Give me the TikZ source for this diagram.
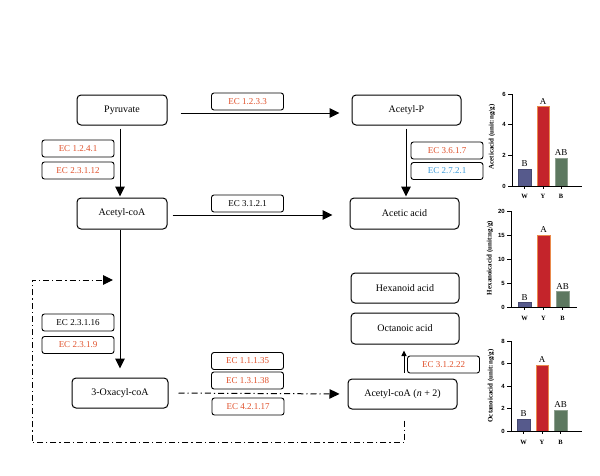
\documentclass[tikz,border=0pt]{standalone}
\usepackage{fontspec}
\setmainfont{Liberation Serif}
\setsansfont{Liberation Sans}
\usetikzlibrary{arrows.meta}
\definecolor{ecred}{HTML}{E0502A}
\definecolor{ecblue}{HTML}{3A9AD9}
\definecolor{barw}{HTML}{565A8C}
\definecolor{bary}{HTML}{C4242B}
\definecolor{baryedge}{HTML}{EA8A4C}
\definecolor{barb}{HTML}{5D7860}
\tikzset{
  mainbox/.style={draw, line width=1pt, rounded corners=4pt, inner sep=0pt, font=\fontsize{10}{11}\selectfont},
  ecbox/.style={draw, line width=0.9pt, rounded corners=2.5pt, inner sep=0pt, minimum width=72pt, minimum height=17pt, font=\fontsize{9}{10}\selectfont},
  arr/.style={line width=1pt, -{Triangle[length=10pt,width=9.5pt]}},
  smallarr/.style={line width=1pt, -{Triangle[length=5.5pt,width=5pt]}},
  dd/.style={line width=1pt, dash pattern=on 6pt off 3pt on 1.2pt off 3pt},
  axisline/.style={line width=0.9pt},
  ticklab/.style={font=\sffamily\bfseries\fontsize{6}{7}\selectfont, anchor=east, inner sep=1pt},
  xlab/.style={font=\bfseries\fontsize{6.5}{7}\selectfont, inner sep=0pt},
  sig/.style={font=\fontsize{9}{10}\selectfont, inner sep=0pt, anchor=south},
  ylab/.style={font=\bfseries\fontsize{7}{8}\selectfont, rotate=90, inner sep=0pt},
}
\begin{document}
\begin{tikzpicture}[x=1pt,y=-1pt]
\useasboundingbox (0,0) rectangle (600,475);
\fill[white] (0,0) rectangle (600,475);
% main boxes
\node[mainbox, minimum width=90pt, minimum height=30pt] (pyr) at (122,110) {Pyruvate};
\node[mainbox, minimum width=109pt, minimum height=30pt] (acp) at (406.5,110) {Acetyl-P};
\node[mainbox, minimum width=90pt, minimum height=31pt] (acoa) at (122,213.5) {Acetyl-coA};
\node[mainbox, minimum width=109pt, minimum height=31pt] (aca) at (404.5,213.5) {Acetic acid};
\node[mainbox, minimum width=96pt, minimum height=30pt] (oxa) at (120,393) {3-Oxacyl-coA};
\node[mainbox, minimum width=109pt, minimum height=30pt] (acn) at (402.5,394) {Acetyl-coA (\textit{n} + 2)};
\node[mainbox, minimum width=108pt, minimum height=30pt] (hex) at (405,288) {Hexanoid acid};
\node[mainbox, minimum width=108pt, minimum height=31pt] (oct) at (405,328.5) {Octanoic acid};
% EC boxes
\node[ecbox, text=ecred] (e1233) at (247.5,101.5) {EC 1.2.3.3};
\node[ecbox, text=ecred] (e1241) at (78,148.5) {EC 1.2.4.1};
\node[ecbox, text=ecred] (e23112) at (78,170.5) {EC 2.3.1.12};
\node[ecbox] (e3121) at (247.5,203.5) {EC 3.1.2.1};
\node[ecbox, text=ecred] (e3617) at (447,150.5) {EC 3.6.1.7};
\node[ecbox, text=ecblue] (e2721) at (447,171) {EC 2.7.2.1};
\node[ecbox] (e23116) at (78,322.5) {EC 2.3.1.16};
\node[ecbox, text=ecred] (e2319) at (78,345) {EC 2.3.1.9};
\node[ecbox, text=ecred] (e11135) at (247.5,361) {EC 1.1.1.35};
\node[ecbox, text=ecred] (e13138) at (247.5,380.5) {EC 1.3.1.38};
\node[ecbox, text=ecred] (e42117) at (248,406.5) {EC 4.2.1.17};
\node[ecbox, text=ecred] (e31222) at (443.5,364.5) {EC 3.1.2.22};
% connectors
\draw[arr, shorten <=13pt, shorten >=12pt] ([yshift=-3pt]pyr.east) -- ([yshift=-3pt]acp.west);
\draw[arr, shorten <=3pt, shorten >=1pt] ([xshift=-2pt]pyr.south) -- ([xshift=-2pt]acoa.north);
\draw[arr, shorten <=3pt, shorten >=1pt] ([xshift=-0.5pt]acp.south) -- ([xshift=1.5pt]aca.north);
\draw[arr, shorten <=5pt, shorten >=17pt] ([yshift=-1.5pt]acoa.east) -- ([yshift=-1.5pt]aca.west);
\draw[arr, shorten >=9pt] ([xshift=-2pt]acoa.south) -- (oxa.north);
\draw[dd, arr, shorten <=10pt, shorten >=8pt] (oxa.east) -- (acn.west);
\draw[smallarr, shorten <=6pt, shorten >=6pt] ([xshift=1.5pt]acn.north) -- ([xshift=-1pt]oct.south);
\coordinate (loopend) at (113,280);
\draw[dd, arr] ([xshift=1.5pt,yshift=-11pt]acn.south) -- ++(0,22) -| (32,280) -- (loopend);
% ---------- chart 1: acetic acid ----------
\begin{scope}[shift={(512,186)}]
  \draw[fill=barw, draw=barw!80!black, line width=0.4pt] (6,0) rectangle (19,-1.1*15.33);
  \draw[fill=bary, draw=baryedge, line width=0.6pt] (25,0) rectangle (37,-5.2*15.33);
  \draw[fill=barb, draw=barb!70!white, line width=0.6pt] (43,0) rectangle (55,-1.83*15.33);
  \draw[axisline] (0,0) -- (0,-6*15.33);
  \draw[axisline] (0,0) -- (70,0);
  \foreach \v in {0,2,4,6} {
    \draw[axisline] (0,-\v*15.33) -- (-4,-\v*15.33);
    \node[ticklab] at (-5,-\v*15.33) {\v};
  }
  \foreach \xx/\t in {12.5/W,31/Y,49/B} {
    \draw[axisline] (\xx,0) -- (\xx,3);
    \node[xlab] at (\xx,10) {\t};
  }
  \node[sig] at (12.5,-1.1*15.33-2) {B};
  \node[sig] at (31,-5.2*15.33-2) {A};
  \node[sig] at (49,-1.83*15.33-2) {AB};
  \node[ylab] at (-20,-49) {Aceticacid (unit:ng/g)};
\end{scope}
% ---------- chart 2: hexanoic acid ----------
\begin{scope}[shift={(511,307)}]
  \draw[fill=barw, draw=barw!80!black, line width=0.4pt] (7,0) rectangle (20,-0.9*4.8);
  \draw[fill=bary, draw=baryedge, line width=0.6pt] (26,0) rectangle (39,-15*4.8);
  \draw[fill=barb, draw=barb!70!white, line width=0.6pt] (45,0) rectangle (58,-3.2*4.8);
  \draw[axisline] (0,0) -- (0,-20*4.8);
  \draw[axisline] (0,0) -- (66,0);
  \foreach \v in {0,5,10,15,20} {
    \draw[axisline] (0,-\v*4.8) -- (-4,-\v*4.8);
    \node[ticklab] at (-5,-\v*4.8) {\v};
  }
  \foreach \xx/\t in {13.5/W,32.5/Y,51.5/B} {
    \draw[axisline] (\xx,0) -- (\xx,3);
    \node[xlab] at (\xx,11) {\t};
  }
  \node[sig] at (13.5,-0.9*4.8-2) {B};
  \node[sig] at (32.5,-15*4.8-2) {A};
  \node[sig] at (51.5,-3.2*4.8-2) {AB};
  \node[ylab] at (-21,-49) {Hexanoicacid (unit:ng/g)};
\end{scope}
% ---------- chart 3: octanoic acid ----------
\begin{scope}[shift={(511,431)}]
  \draw[fill=barw, draw=barw!80!black, line width=0.4pt] (6,0) rectangle (19,-1.07*11.25);
  \draw[fill=bary, draw=baryedge, line width=0.6pt] (25,0) rectangle (37,-5.87*11.25);
  \draw[fill=barb, draw=barb!70!white, line width=0.6pt] (43,0) rectangle (56,-1.87*11.25);
  \draw[axisline] (0,0) -- (0,-8*11.25);
  \draw[axisline] (0,0) -- (71,0);
  \foreach \v in {0,2,4,6,8} {
    \draw[axisline] (0,-\v*11.25) -- (-4,-\v*11.25);
    \node[ticklab] at (-5,-\v*11.25) {\v};
  }
  \foreach \xx/\t in {12.5/W,31/Y,49.5/B} {
    \draw[axisline] (\xx,0) -- (\xx,3);
    \node[xlab] at (\xx,11) {\t};
  }
  \node[sig] at (12.5,-1.07*11.25-2) {B};
  \node[sig] at (31,-5.87*11.25-2) {A};
  \node[sig] at (49.5,-1.87*11.25-2) {AB};
  \node[ylab] at (-20,-45) {Octanoicacid (unit:ng/g)};
\end{scope}
\end{tikzpicture}
\end{document}
